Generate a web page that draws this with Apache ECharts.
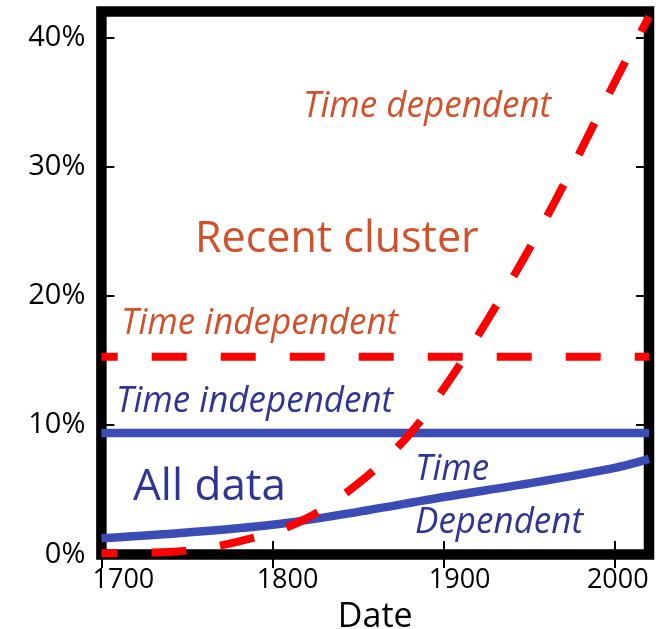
<!DOCTYPE html>
<html>
<head>
<meta charset="utf-8">
<script src="https://cdn.jsdelivr.net/npm/echarts@6/dist/echarts.min.js"></script>
<style>
html,body{margin:0;padding:0;background:#fff;}
#chart{width:658px;height:629px;}
</style>
</head>
<body>
<div id="chart"></div>
<script>
// ---- data ----
const xTicks = [1700, 1800, 1900, 2000];
const yTicks = [0, 10, 20, 30, 40];
const allIndepValue = 9.4;           // blue, time independent (%)
const recentIndepValue = 15.3;       // red dashed, time independent (%)
const allDepYears = [1700, 1750, 1800, 1850, 1900, 1950, 2000, 2020];
const allDepValues = [1.25, 1.7, 2.3, 3.3, 4.45, 5.5, 6.7, 7.4];
const recentDepYears = [1700, 1740, 1780, 1817, 1851, 1880, 1904, 1925, 1946, 1965, 1983, 2001, 2020];
const recentDepValues = [0.1, 0.2, 1.0, 2.6, 5.6, 9.3, 13.6, 18.0, 22.7, 27.3, 32.0, 36.8, 41.6];
const xLabelShift = {1700: 44, 1800: 30, 1900: 32, 2000: 6};

const FONT = '"Open Sans", "Noto Sans", sans-serif';
const BLUE_LINE = '#3b4cb4';
const BLUE_TEXT = '#2e3592';
const ORANGE = '#d0512c';
const RED = '#ff0000';

const chart = echarts.init(document.getElementById('chart'), null, {renderer: 'canvas'});

const pair = (xs, ys) => xs.map((x, i) => [x, ys[i]]);

const rich = {};
xTicks.forEach(v => { rich['l' + v] = {padding: [0, 0, 0, xLabelShift[v]], fontFamily: FONT, fontSize: 27, fontWeight: 500, color: '#000'}; });

const tickStyle = {color: '#000', width: 2};

const option = {
  animation: false,
  backgroundColor: '#fff',
  grid: {left: 101.4, right: 9, top: 11.5, bottom: 74.5, containLabel: false, outerBoundsMode: 'none',
    show: true, borderColor: '#000', borderWidth: 10.5, backgroundColor: 'transparent'},
  xAxis: [{
    type: 'value', min: 1700, max: 2020, interval: 100, position: 'bottom',
    name: 'Date', nameLocation: 'middle', nameGap: 46,
    nameTextStyle: {fontFamily: FONT, fontSize: 34, fontWeight: 500, color: '#000'},
    axisLine: {show: false},
    axisTick: {show: true, inside: true, length: 13.5, lineStyle: tickStyle, customValues: xTicks},
    axisLabel: {show: true, margin: 12, customValues: xTicks, fontFamily: FONT, fontSize: 27, fontWeight: 500, color: '#000',
      formatter: v => xTicks.indexOf(v) >= 0 ? '{l' + v + '|' + v + '}' : '', rich: rich},
    splitLine: {show: false}
  }, {
    type: 'value', min: 1700, max: 2020, interval: 100, position: 'top',
    axisLine: {show: false},
    axisTick: {show: true, inside: true, length: 13.5, lineStyle: tickStyle, customValues: xTicks},
    axisLabel: {show: false}, splitLine: {show: false}
  }],
  yAxis: [{
    type: 'value', min: 0, max: 42, interval: 10, position: 'left',
    axisLine: {show: false},
    axisTick: {show: true, inside: true, length: 13, lineStyle: tickStyle, customValues: yTicks},
    axisLabel: {show: true, margin: 16, customValues: yTicks, fontFamily: FONT, fontSize: 29, fontWeight: 500, color: '#000',
      formatter: v => yTicks.indexOf(v) >= 0 ? v + '%' : ''},
    splitLine: {show: false}
  }, {
    type: 'value', min: 0, max: 42, interval: 10, position: 'right',
    axisLine: {show: false},
    axisTick: {show: true, inside: true, length: 13, lineStyle: tickStyle, customValues: yTicks},
    axisLabel: {show: false}, splitLine: {show: false}
  }],
  series: [
    {type: 'line', data: [[1700, allIndepValue], [2020, allIndepValue]], showSymbol: false, symbol: 'none',
      lineStyle: {color: BLUE_LINE, width: 8.5}, z: 3},
    {type: 'line', data: pair(allDepYears, allDepValues), smooth: 0.3, showSymbol: false, symbol: 'none',
      lineStyle: {color: BLUE_LINE, width: 8.5}, z: 3},
    {type: 'line', data: [[1700, recentIndepValue], [2020, recentIndepValue]], showSymbol: false, symbol: 'none',
      lineStyle: {color: RED, width: 8, type: [35, 34], dashOffset: 18.7, cap: 'butt'}, z: 4},
    {type: 'line', data: pair(recentDepYears, recentDepValues), smooth: 0.35, showSymbol: false, symbol: 'none',
      lineStyle: {color: RED, width: 8, type: [35, 34], dashOffset: 19, cap: 'butt'}, z: 4}
  ],
  graphic: [
    {type: 'text', x: 303, y: 106.5, scaleY: 1.06, z: 10, style: {text: 'Time dependent', fill: ORANGE, font: 'italic 500 35px ' + FONT, align: 'left', verticalAlign: 'middle'}},
    {type: 'text', x: 195, y: 240, z: 10, style: {text: 'Recent cluster', fill: ORANGE, font: '500 43px ' + FONT, align: 'left', verticalAlign: 'middle'}},
    {type: 'text', x: 121, y: 323, scaleY: 1.06, z: 10, style: {text: 'Time independent', fill: ORANGE, font: 'italic 500 35px ' + FONT, align: 'left', verticalAlign: 'middle'}},
    {type: 'text', x: 116, y: 401.5, scaleY: 1.06, z: 10, style: {text: 'Time independent', fill: BLUE_TEXT, font: 'italic 500 35px ' + FONT, align: 'left', verticalAlign: 'middle'}},
    {type: 'text', x: 133, y: 487, z: 10, style: {text: 'All data', fill: BLUE_TEXT, font: '500 44px ' + FONT, align: 'left', verticalAlign: 'middle'}},
    {type: 'text', x: 415, y: 469, scaleY: 1.06, z: 10, style: {text: 'Time', fill: BLUE_TEXT, font: 'italic 500 35px ' + FONT, align: 'left', verticalAlign: 'middle'}},
    {type: 'text', x: 415, y: 522.5, scaleY: 1.06, z: 10, style: {text: 'Dependent', fill: BLUE_TEXT, font: 'italic 500 35px ' + FONT, align: 'left', verticalAlign: 'middle'}}
  ]
};
chart.setOption(option);
</script>
</body>
</html>
